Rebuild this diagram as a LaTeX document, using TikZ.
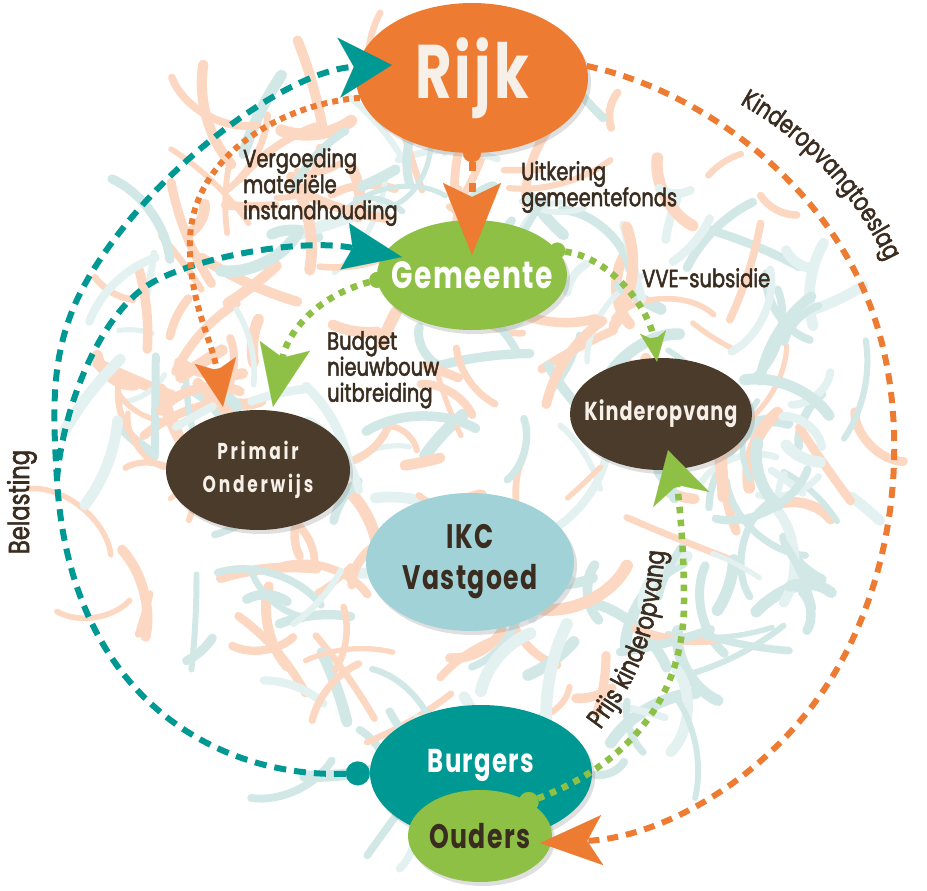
\documentclass[tikz,border=0pt]{standalone}
\usepackage{fontspec}
\usetikzlibrary{shapes.geometric,arrows.meta,shadows,decorations.text}
\newfontfamily\nodefont{Poppins}[FakeStretch=0.74,LetterSpace=4]
\newfontfamily\lblfont{Poppins}[FakeStretch=0.78,FakeBold=2]
\definecolor{oranje}{RGB}{237,124,50}
\definecolor{groen}{RGB}{141,192,68}
\definecolor{blauwgroen}{RGB}{0,152,146}
\definecolor{bruin}{RGB}{74,59,42}
\definecolor{lichtblauw}{RGB}{161,210,216}
\definecolor{tekst}{RGB}{58,45,32}
\definecolor{creme}{RGB}{246,240,233}
\definecolor{krab0}{RGB}{252,216,194}
\definecolor{krab1}{RGB}{209,232,231}
\definecolor{krab2}{RGB}{228,241,241}
\begin{document}
\begin{tikzpicture}[x=1pt,y=-1pt,
    blob/.style={ellipse, inner sep=0pt, drop shadow={shadow xshift=3pt, shadow yshift=-4pt, opacity=.25}},
    ntxt/.style={text=white, align=center, inner sep=0pt},
    lbl/.style={text=tekst, align=left, inner sep=0pt, font=\lblfont\fontsize{25}{26}\selectfont},
    oranjelijn/.style={draw=oranje, line width=6pt},
    groenlijn/.style={draw=groen, line width=6.5pt, dash pattern=on 6.5pt off 6.5pt},
    tealijn/.style={draw=blauwgroen, line width=6pt, dash pattern=on 12pt off 8pt}]
    \fill[white] (0,0) rectangle (927,891);
    \useasboundingbox (0,0) rectangle (927,891);

    % achtergrond krabbels
    \pgfmathsetseed{23}
    \foreach \i in {1,...,290}{
        \pgfmathsetmacro{\hoek}{360*rnd}
        \pgfmathsetmacro{\afst}{395*sqrt(rnd)}
        \pgfmathsetmacro{\sx}{472+\afst*cos(\hoek)}
        \pgfmathsetmacro{\sy}{432+0.93*\afst*sin(\hoek)}
        \pgfmathsetmacro{\rich}{360*rnd}
        \pgfmathsetmacro{\lengte}{30+80*rnd}
        \pgfmathsetmacro{\buig}{90*rnd-45}
        \pgfmathsetmacro{\ex}{\sx+\lengte*cos(\rich)}
        \pgfmathsetmacro{\ey}{\sy+\lengte*sin(\rich)}
        \pgfmathsetmacro{\ax}{\sx+\lengte/3*cos(\rich+\buig)}
        \pgfmathsetmacro{\ay}{\sy+\lengte/3*sin(\rich+\buig)}
        \pgfmathsetmacro{\bx}{\ex-\lengte/3*cos(\rich-\buig)}
        \pgfmathsetmacro{\by}{\ey-\lengte/3*sin(\rich-\buig)}
        \pgfmathsetmacro{\dikte}{5+7*rnd}
        \pgfmathsetmacro{\kans}{0.45-0.3*(\sx-470)/400-0.15*(\sy-440)/400}
        \pgfmathsetmacro{\trek}{rnd}
        \pgfmathtruncatemacro{\kl}{\trek<\kans ? 0 : (\trek<\kans+0.6*(1-\kans) ? 1 : 2)}
        \draw[draw=krab\kl, line width=\dikte pt, line cap=round] (\sx,\sy) .. controls (\ax,\ay) and (\bx,\by) .. (\ex,\ey);
    }

    \node[blob, fill=oranje, minimum width=232pt, minimum height=150pt, label={[ntxt, text=creme, font=\nodefont\bfseries\fontsize{76}{76}\selectfont]center:Rijk}] (rijk) at (472,78) {};
    \node[blob, fill=groen, minimum width=190pt, minimum height=110pt, label={[ntxt, font=\nodefont\bfseries\fontsize{38}{38}\selectfont]center:Gemeente}] (gem) at (472,275) {};
    \node[blob, fill=bruin, minimum width=184pt, minimum height=120pt, label={[ntxt, text=creme, font=\nodefont\bfseries\addfontfeatures{LetterSpace=12}\fontsize{23}{33}\selectfont]center:Primair\\Onderwijs}] (prim) at (258,470) {};
    \node[blob, fill=bruin, minimum width=182pt, minimum height=112pt, label={[ntxt, text=creme, font=\nodefont\bfseries\fontsize{26}{26}\selectfont]center:Kinderopvang}] (kin) at (661,414) {};
    \node[blob, fill=lichtblauw, minimum width=208pt, minimum height=138pt, label={[ntxt, text=tekst, font=\nodefont\bfseries\fontsize{34}{41}\selectfont]center:IKC\\Vastgoed}] (ikc) at (470,562) {};
    \node[blob, fill=blauwgroen, minimum width=222pt, minimum height=136pt, label={[ntxt, yshift=8pt, font=\nodefont\bfseries\fontsize{33}{33}\selectfont]center:Burgers}] (burg) at (481,773) {};
    \node[blob, fill=groen, minimum width=144pt, minimum height=92pt, label={[ntxt, text=tekst, font=\nodefont\bfseries\fontsize{34}{34}\selectfont]center:Ouders}] (ouders) at (480,836) {};

    % geldstromen
    \draw[oranjelijn, line width=7pt, dash pattern=on 9pt off 12pt, {Circle[length=18pt, line width=0.1pt]}-{Stealth[length=72pt, width=58pt, inset=14pt, line width=0.1pt]}, shorten <=-9pt] (rijk.south) -- ([shift={(0,-20)}]gem.center);
    \coordinate (splits) at (57,480);
    \draw[tealijn, {Circle[length=24pt, line width=0.1pt]}-{Stealth[length=53pt, width=60pt, inset=15pt, line width=0.1pt]}] (burg.west) .. controls (220,778) and (70,700) .. (splits) .. controls (52,400) and (50,340) .. (92,272) .. controls (159,163) and (290,70) .. ([shift={(36,-13)}]rijk.west);
    \draw[tealijn, -{Stealth[length=58pt, width=47pt, inset=8pt, line width=0.1pt]}] (splits) .. controls (62,410) and (100,310) .. (155,281) .. controls (200,257) and (300,238) .. ([shift={(25,-18)}]gem.west);
    \draw[oranjelijn, dash pattern=on 6pt off 5pt, -{Stealth[length=47pt, width=42pt, inset=10pt, line width=0.1pt]}] (rijk.190) .. controls (275,105) and (192,160) .. (190,240) .. controls (188,300) and (212,340) .. ([shift={(-35,-3)}]prim.north);
    \draw[groenlijn, {Circle[length=16pt, line width=0.1pt]}-{Stealth[length=62pt, width=51pt, inset=12pt, line width=0.1pt]}, shorten <=-8pt] (gem.183) .. controls (320,295) and (288,330) .. ([shift={(15,-3)}]prim.north);
    \draw[groenlijn, {Circle[length=16pt, line width=0.1pt]}-{Stealth[length=30pt, width=26pt, inset=8pt, line width=0.1pt]}, shorten <=-8pt] (gem.16) .. controls (612,258) and (650,310) .. ([shift={(-4,4)}]kin.north);
    \draw[groenlijn, {Circle[length=20pt, line width=0.1pt]}-{Stealth[length=51pt, width=58pt, inset=15pt, line width=0.1pt]}, shorten <=-10pt] (ouders.35) .. controls (600,775) and (685,720) .. (684,600) .. controls (684,530) and (676,480) .. ([shift={(7,-20)}]kin.south);
    \draw[oranjelijn, dash pattern=on 11pt off 8pt, -{Stealth[length=62pt, width=50pt, inset=15pt, line width=0.1pt]}] (rijk.6) .. controls (700,90) and (820,180) .. (868,300) .. controls (916,420) and (900,600) .. (805,715) .. controls (740,795) and (650,838) .. ([shift={(-12,7)}]ouders.east);

    % teksten
    \node[lbl, anchor=north west] (vergoeding) at (243,148) {Vergoeding\\materiële\\instandhouding};
    \node[lbl, anchor=north west] (uitkering) at (521,161) {Uitkering\\gemeentefonds};
    \node[lbl, anchor=north west] (vve) at (642,268) {VVE-subsidie};
    \node[lbl, anchor=north west] (budget) at (327,331) {Budget\\nieuwbouw\\uitbreiding};
    \node[lbl, rotate=90, font=\lblfont\fontsize{29}{30}\selectfont] (belasting) at (22,502) {Belasting};
    \path[decorate, decoration={text along path, text align=center, text color=tekst, text={|\lblfont\fontsize{26}{26}\selectfont|Kinderopvangtoeslag}}] (712,90) .. controls (790,125) and (860,190) .. (899,290);
    \path[decorate, decoration={text along path, text align=center, text color=tekst, text={|\lblfont\fontsize{27}{27}\selectfont|Prijs kinderopvang}}] (578,758) .. controls (625,700) and (665,650) .. (666,515);
\end{tikzpicture}
\end{document}
